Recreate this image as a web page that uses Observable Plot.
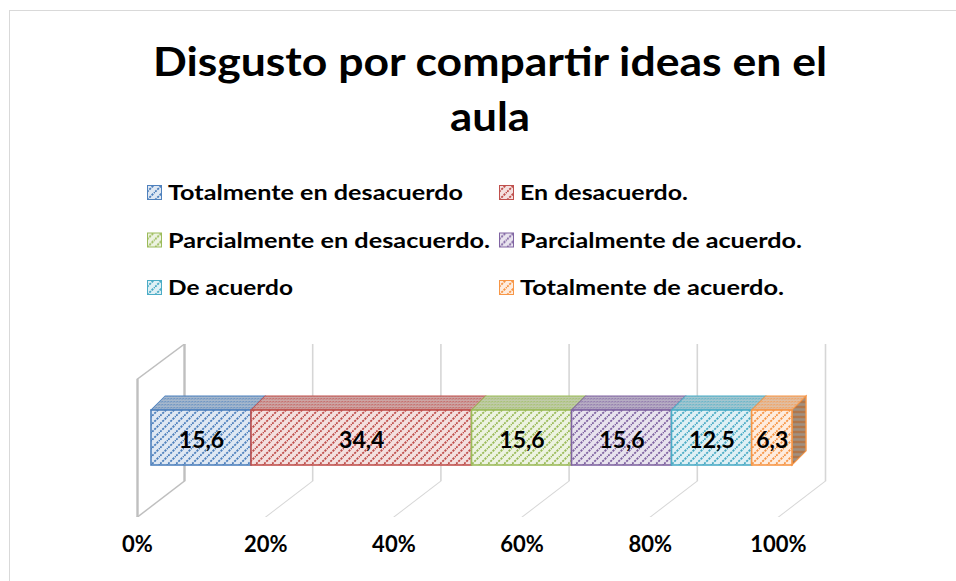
<!DOCTYPE html>
<html>
<head>
<meta charset="utf-8">
<script src="https://cdn.jsdelivr.net/npm/d3@7"></script>
<script src="https://cdn.jsdelivr.net/npm/@observablehq/plot@0.6"></script>
<style>
html, body { margin: 0; padding: 0; background: #fff; overflow: hidden; }
#root { position: relative; width: 956px; height: 581px; overflow: hidden; font-family: Lato, "Open Sans", sans-serif; }
#frame { position: absolute; left: 9px; top: 10px; width: 1200px; height: 1200px; border: 1px solid #d9d9d9; box-sizing: border-box; }
#header { position: absolute; left: 0; top: 0; }
#chart { position: absolute; left: 0; top: 320px; }
</style>
</head>
<body>
<div id="root">
  <div id="frame"></div>
  <svg id="header" width="956" height="320"></svg>
  <div id="chart"></div>
</div>
<script>
// ---------- data ----------
const titleLines = ["Disgusto por compartir ideas en el", "aula"];
const categories = [
  "Totalmente en desacuerdo",
  "En desacuerdo.",
  "Parcialmente en desacuerdo.",
  "Parcialmente de acuerdo.",
  "De acuerdo",
  "Totalmente de acuerdo."
];
const values = [15.6, 34.4, 15.6, 15.6, 12.5, 6.3];
const colors = ["#4F81BD", "#C0504D", "#9BBB59", "#8064A2", "#4BACC6", "#F79646"];
const tickValues = [0, 20, 40, 60, 80, 100];
const tickLabels = ["0%", "20%", "40%", "60%", "80%", "100%"];

// ---------- layout ----------
const FONT = "Lato, 'Open Sans', sans-serif";
const legendCols = [147, 499];            // swatch x per column
const legendRows = [200, 247.5, 295];     // text baselines per row
const legendTextWidths = [295, 168, 322, 282, 125, 264];

const data = categories.map((c, i) => ({category: c, value: values[i], i}));
const fmt = v => v.toFixed(1).replace(".", ",");

// ---------- patterns ----------
const defs = d3.select("body").append("svg")
  .attr("width", 0).attr("height", 0)
  .style("position", "absolute").style("left", 0).style("top", 0)
  .append("defs");
colors.forEach((c, i) => {
  const light = d3.interpolateRgb(c, "#ffffff")(0.82);
  const pf = defs.append("pattern").attr("id", `front-${i}`)
    .attr("patternUnits", "userSpaceOnUse").attr("width", 8).attr("height", 8);
  pf.append("rect").attr("width", 8).attr("height", 8).attr("fill", light);
  pf.append("path").attr("d", "M-2,2L2,-2M0,8L8,0M6,10L10,6")
    .attr("stroke", c).attr("stroke-width", 1.9).attr("stroke-dasharray", "2.2 1.1");

  const pt = defs.append("pattern").attr("id", `top-${i}`)
    .attr("patternUnits", "userSpaceOnUse").attr("width", 3).attr("height", 3);
  pt.append("rect").attr("width", 3).attr("height", 3)
    .attr("fill", d3.interpolateRgb(c, "#d4d4d4")(0.65));
  pt.append("rect").attr("width", 1.5).attr("height", 1.5).attr("fill", c).attr("opacity", 0.8);
});
const ps = defs.append("pattern").attr("id", "side")
  .attr("patternUnits", "userSpaceOnUse").attr("width", 5).attr("height", 5);
ps.append("rect").attr("width", 5).attr("height", 5).attr("fill", "#a09080");
ps.append("path").attr("d", "M-1,-1L6,6M-1,4L1,6M4,-1L6,1")
  .attr("stroke", "#b9672a").attr("stroke-width", 1.1);

// ---------- header: title + legend ----------
const header = d3.select("#header");
header.selectAll("text.title").data(titleLines).join("text")
  .attr("class", "title")
  .attr("x", 490)
  .attr("y", (d, i) => [76, 131][i])
  .attr("text-anchor", "middle")
  .attr("font-family", FONT).attr("font-weight", 700).attr("font-size", 41)
  .attr("textLength", (d, i) => [674, 80][i])
  .attr("lengthAdjust", "spacingAndGlyphs")
  .attr("fill", "#000")
  .text(d => d);

const lg = header.selectAll("g.leg").data(data).join("g").attr("class", "leg")
  .attr("transform", d => `translate(${legendCols[d.i % 2]},${legendRows[Math.floor(d.i / 2)]})`);
lg.append("rect").attr("x", 0.5).attr("y", -14.5).attr("width", 14).attr("height", 14)
  .attr("fill", d => `url(#front-${d.i})`).attr("stroke", d => colors[d.i]).attr("stroke-width", 1);
lg.append("text").attr("x", 21).attr("y", 0)
  .attr("font-family", FONT).attr("font-weight", 700).attr("font-size", 21)
  .attr("textLength", d => legendTextWidths[d.i]).attr("lengthAdjust", "spacingAndGlyphs")
  .attr("fill", "#000")
  .text(d => d.category);

// ---------- chart ----------
const W = 956, H = 261;
const keys = [...categories.map(c => "front|" + c), ...categories.map(c => "top|" + c), "side"];
const urls = [...categories.map((c, i) => `url(#front-${i})`), ...categories.map((c, i) => `url(#top-${i})`), "url(#side)"];
const total = d3.sum(values);
const last = data[data.length - 1];

const gridColor = "#d6d6d6", wallColor = "#bfbfbf";

const plot = Plot.plot({
  width: W, height: H,
  marginLeft: 151, marginRight: W - 792, marginTop: 24, marginBottom: 100,
  style: {fontFamily: FONT, background: "transparent", overflow: "visible"},
  x: {domain: [0, 100], axis: null},
  color: {type: "ordinal", domain: keys, range: urls},
  marks: [
    // back wall gridlines
    Plot.ruleX(tickValues.slice(1), {dx: 33, stroke: gridColor, strokeWidth: 1.6}),
    // floor diagonals
    Plot.ruleX(tickValues.slice(1), {insetTop: 137, insetBottom: -36, stroke: gridColor, strokeWidth: 1.6, ariaDescription: "floor-diag"}),
    // left side wall
    Plot.ruleX([0], {dx: 33, stroke: wallColor, strokeWidth: 2.4}),
    Plot.ruleX([0], {dx: -14, insetTop: 35, insetBottom: -36, stroke: wallColor, strokeWidth: 2.4}),
    Plot.ruleX([0], {insetTop: 137, insetBottom: -36, stroke: wallColor, strokeWidth: 2.4, ariaDescription: "wall-bottom"}),
    Plot.ruleX([0], {insetTop: 0, insetBottom: 102, stroke: wallColor, strokeWidth: 2.4, ariaDescription: "wall-top"}),
    // top faces of bar segments
    Plot.barX(data, Plot.stackX({
      x: "value", fill: d => "top|" + d.category, stroke: d => colors[d.i], strokeWidth: 1.2,
      insetTop: 52, insetBottom: 71, ariaDescription: "top-face"
    })),
    // right side face of last segment
    Plot.barX([last], {
      x1: () => total, x2: () => total, insetRight: -14, insetTop: 66, insetBottom: 16,
      fill: () => "side", stroke: colors[last.i], strokeWidth: 1.4, ariaDescription: "side-face"
    }),
    // front faces
    Plot.barX(data, Plot.stackX({
      x: "value", fill: d => "front|" + d.category, stroke: d => colors[d.i], strokeWidth: 1.6,
      insetTop: 66, insetBottom: 16
    })),
    // value labels
    Plot.text(data, Plot.stackX({
      x: "value", text: d => fmt(d.value), fontSize: 23, fontWeight: "bold", fill: "#000", dy: 28
    })),
    // axis labels
    Plot.text(tickValues, {
      x: d => d, text: (d, i) => tickLabels[i], frameAnchor: "bottom", dx: -14, dy: 70,
      fontSize: 22, fontWeight: "bold", fill: "#000"
    })
  ]
});

const xs = plot.scale("x");
const xEnd = xs.apply(total);

function groupsFor(label) {
  return plot.querySelectorAll(`g[aria-description="${label}"]`);
}
function shearX(label, ya, sa, yb, sb) {
  groupsFor(label).forEach(g => {
    const b = (sb - sa) / (yb - ya), a = sa - b * ya;
    const deg = Math.atan(b) * 180 / Math.PI;
    const prev = g.getAttribute("transform") || "";
    g.setAttribute("transform", `translate(${a},0) skewX(${deg}) ${prev}`);
  });
}
shearX("floor-diag", 161, 33, 197, -14);
shearX("wall-bottom", 161, 33, 197, -14);
shearX("wall-top", 24, 33, 59, -14);
shearX("top-face", 90, 0, 76, 14);
groupsFor("side-face").forEach(g => {
  const prev = g.getAttribute("transform") || "";
  g.setAttribute("transform", `translate(0,${xEnd}) skewY(-45) ${prev}`);
});

document.getElementById("chart").appendChild(plot);
</script>
</body>
</html>
